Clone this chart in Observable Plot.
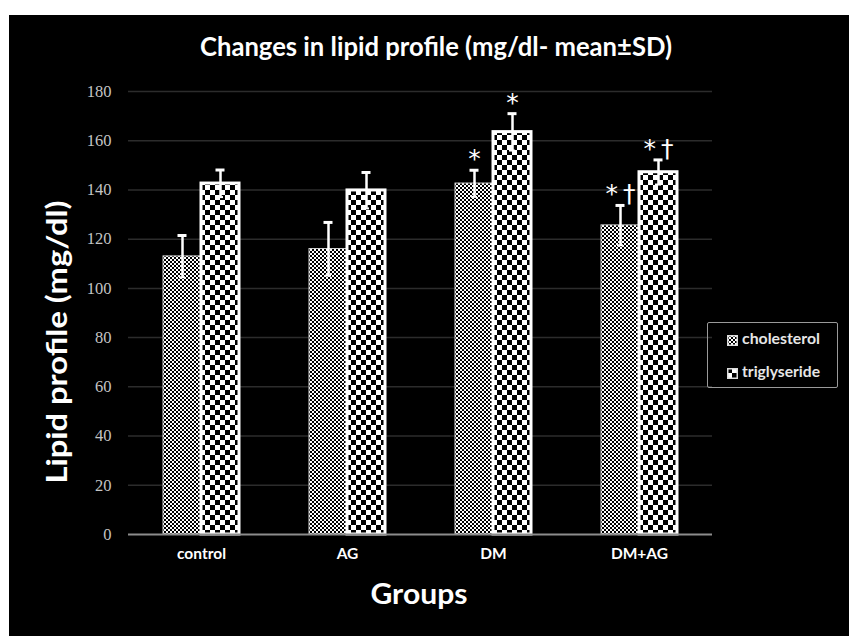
<!DOCTYPE html>
<html><head><meta charset="utf-8">
<script src="https://cdn.jsdelivr.net/npm/d3@7"></script>
<script src="https://cdn.jsdelivr.net/npm/@observablehq/plot@0.6"></script>
<style>
html,body{margin:0;padding:0;background:#fff;width:849px;height:636px;overflow:hidden;font-family:Lato,sans-serif;}
#frame{position:absolute;left:9px;top:15px;width:840px;height:621px;background:#000;}
.lbl{position:absolute;white-space:nowrap;line-height:1.2;font-family:Lato,sans-serif;font-weight:700;color:#fff;}
#legend{position:absolute;left:707px;top:322px;width:131px;height:66px;border:1.5px solid #9a9a9a;border-radius:2px;box-sizing:border-box;}
.sw{position:absolute;width:11px;height:11px;}
</style></head><body>
<div id="frame"></div>
<div id="legend"></div>
<script>
// ---- data ----
const groups = ["control", "AG", "DM", "DM+AG"];
const series = ["cholesterol", "triglyseride"];
const cholMean = [113, 116, 142.6, 125.6];
const cholSD = [8.5, 10.8, 5.4, 8.1];
const trigMean = [142.6, 139.8, 163.5, 147.2];
const trigSD = [5.5, 7.3, 7.5, 5.0];
const cholSig = ["", "", "*", "*\u2009†"];
const trigSig = ["", "", "*", "*\u2009†"];
const yTicks = [0, 20, 40, 60, 80, 100, 120, 140, 160, 180];
const titleText = "Changes in lipid profile (mg/dl- mean±SD)";
const yLabel = "Lipid profile (mg/dl)";
const xLabel = "Groups";

const rows = [];
groups.forEach((g, i) => {
  rows.push({group: g, series: series[0], mean: cholMean[i], sd: cholSD[i], sig: cholSig[i]});
  rows.push({group: g, series: series[1], mean: trigMean[i], sd: trigSD[i], sig: trigSig[i]});
});
const chol = rows.filter(d => d.series === series[0]);
const trig = rows.filter(d => d.series === series[1]);

const svg = Plot.plot({
  width: 840, height: 621,
  marginLeft: 118, marginRight: 137, marginTop: 76, marginBottom: 102,
  style: {background: "transparent", color: "white", fontFamily: "Lato, sans-serif", overflow: "visible"},
  fx: {domain: groups, paddingInner: 0, paddingOuter: 0},
  x: {domain: series, paddingInner: 0, paddingOuter: 0.9, axis: null},
  y: {domain: [0, 180]},
  marks: [
    Plot.ruleY(yTicks.slice(1), {stroke: "#2c2c2c", strokeWidth: 1.5}),
    Plot.barY(chol, {fx: "group", x: "series", y: "mean", fill: "url(#pChol)", stroke: "#cfcfcf", strokeWidth: 1}),
    Plot.barY(trig, {fx: "group", x: "series", y: "mean", fill: "url(#pTrig)", stroke: "white", strokeWidth: 3}),
    Plot.ruleY([0], {stroke: "#8c8c8c", strokeWidth: 2}),
    Plot.ruleX(rows, {fx: "group", x: "series", y1: d => d.mean - d.sd, y2: d => d.mean + d.sd, stroke: "white", strokeWidth: 2.5}),
    Plot.tickY(rows, {fx: "group", x: "series", y: d => d.mean + d.sd, stroke: "white", strokeWidth: 3, insetLeft: 14.5, insetRight: 14.5}),
    Plot.tickY(rows, {fx: "group", x: "series", y: d => d.mean - d.sd, stroke: "white", strokeWidth: 2, insetLeft: 16, insetRight: 16}),
    Plot.text(rows, {fx: "group", x: "series", y: d => d.mean + d.sd, text: "sig", dy: -11, fill: "white", fontSize: 25, fontFamily: "DejaVu Sans, sans-serif"}),
    Plot.axisY({ticks: yTicks, tickSize: 0, tickPadding: 17, fill: "#c4c4c4", fontSize: 16.5, fontFamily: "Liberation Serif, serif", label: null}),
    Plot.axisFx({anchor: "bottom", tickSize: 0, tickPadding: 13, fontSize: 15.5, fontWeight: "bold", fill: "white", label: null})
  ]
});

// patterns
const defs = d3.select(svg).insert("defs", ":first-child");
const p1 = defs.append("pattern").attr("id", "pChol").attr("patternUnits", "userSpaceOnUse").attr("width", 4).attr("height", 4);
p1.append("rect").attr("width", 4).attr("height", 4).attr("fill", "#000");
p1.append("rect").attr("width", 2).attr("height", 2).attr("fill", "#fff");
p1.append("rect").attr("x", 2).attr("y", 2).attr("width", 2).attr("height", 2).attr("fill", "#fff");
const p2 = defs.append("pattern").attr("id", "pTrig").attr("patternUnits", "userSpaceOnUse").attr("width", 10).attr("height", 10);
p2.append("rect").attr("width", 10).attr("height", 10).attr("fill", "#fff");
p2.append("rect").attr("width", 5).attr("height", 5).attr("fill", "#000");
p2.append("rect").attr("x", 5).attr("y", 5).attr("width", 5).attr("height", 5).attr("fill", "#000");

document.getElementById("frame").appendChild(svg);

// text labels (page coordinates)
function place(text, o) {
  const el = document.createElement("div");
  el.className = "lbl";
  el.textContent = text;
  el.style.fontSize = o.fs + "px";
  if (o.color) el.style.color = o.color;
  if (o.weight) el.style.fontWeight = o.weight;
  document.body.appendChild(el);
  const w = el.getBoundingClientRect().width;
  const s = o.width ? o.width / w : 1;
  let cx, cy;
  if (o.rotate) {
    cx = o.baseline - 0.387 * o.fs;
    cy = o.c;
  } else {
    cx = o.left != null ? o.left + o.width / 2 : o.c;
    cy = o.baseline - 0.387 * o.fs;
  }
  el.style.left = cx + "px";
  el.style.top = cy + "px";
  el.style.transform = `translate(-50%,-50%)${o.rotate ? " rotate(-90deg)" : ""} scaleX(${s})`;
  return el;
}
place(titleText, {fs: 26, c: 436, baseline: 57, width: 472, weight: 700});
place(xLabel, {fs: 28, c: 418.5, baseline: 605, width: 97});
place(yLabel, {fs: 28, c: 341.5, baseline: 68, width: 283, rotate: true});

// legend
const leg = document.getElementById("legend");
const pats = ["pChol", "pTrig"];
const legBase = [345, 378];
series.forEach((s, i) => {
  const sw = document.createElementNS("http://www.w3.org/2000/svg", "svg");
  sw.setAttribute("class", "sw");
  sw.setAttribute("width", 11); sw.setAttribute("height", 11);
  sw.style.left = (726 - 707) + "px";
  sw.style.top = (legBase[i] - 11 - 322) + "px";
  sw.innerHTML = `<rect x="0.75" y="0.75" width="9.5" height="9.5" fill="url(#${pats[i]})" stroke="#ddd" stroke-width="1.5"/>`;
  leg.appendChild(sw);
  place(s, {fs: 14.5, left: 742, width: 78, baseline: legBase[i], color: "#e6e6e6"});
});
</script>
</body></html>
